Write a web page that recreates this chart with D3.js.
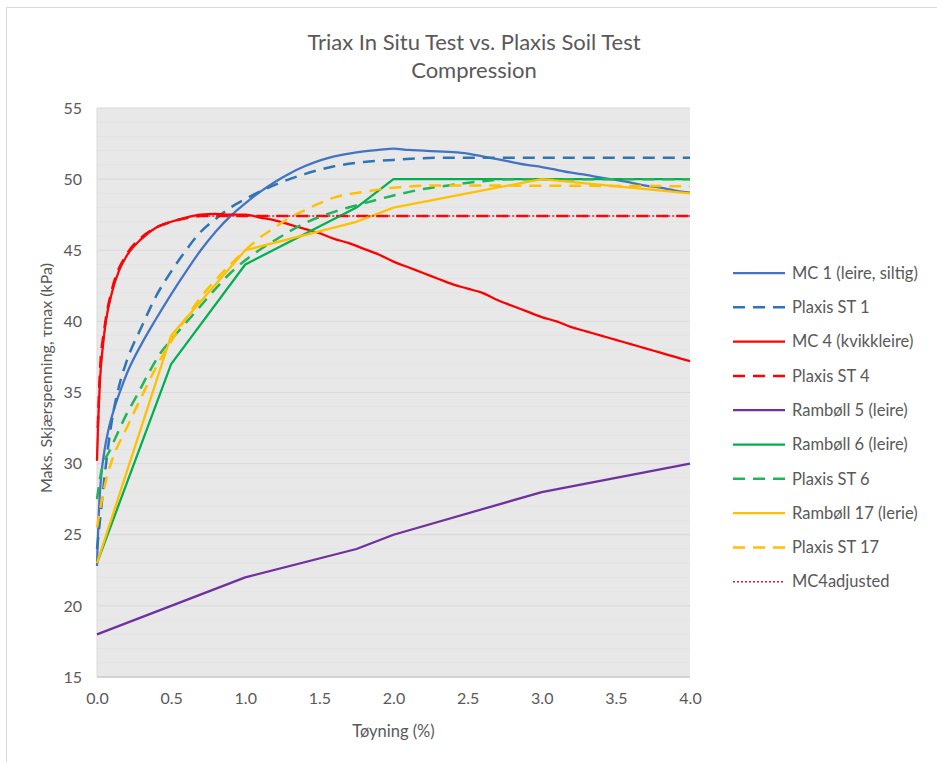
<!DOCTYPE html>
<html lang="no">
<head>
<meta charset="utf-8">
<style>
  body { margin: 0; background: #fff; }
  svg { font-family: 'Lato', sans-serif; }
  .lbl { fill: #595959; }
</style>
</head>
<body>
<div id="chart"></div>
<script src="https://cdn.jsdelivr.net/npm/d3@7"></script>
<script>
// strain (%) vs max shear stress (kPa)
var mc1 = [[0,22.8],[0.005,24.5],[0.01,26],[0.02,28],[0.03,29.3],[0.05,30.9],[0.08,32.5],[0.12,34.0],[0.16,35.2],[0.2,36.3],[0.3,38.4],[0.4,40.2],[0.5,41.9],[0.6,43.5],[0.7,45.0],[0.8,46.3],[0.9,47.4],[1.0,48.3],[1.1,49.1],[1.2,49.8],[1.3,50.4],[1.4,50.9],[1.5,51.3],[1.6,51.6],[1.7,51.8],[1.8,51.95],[1.9,52.05],[2.0,52.15],[2.1,52.05],[2.2,52.0],[2.3,51.95],[2.4,51.9],[2.5,51.8],[2.6,51.6],[2.7,51.4],[2.8,51.2],[2.9,51.0],[3.0,50.85],[3.1,50.65],[3.2,50.45],[3.3,50.3],[3.4,50.1],[3.5,49.95],[3.6,49.75],[3.7,49.55],[3.8,49.4],[3.9,49.2],[4.0,49.05]];
var st1 = [[0,24],[0.02,26],[0.05,29],[0.1,33],[0.15,35.5],[0.2,37.2],[0.3,39.6],[0.4,41.8],[0.5,43.5],[0.6,45.0],[0.7,46.3],[0.8,47.2],[0.9,48.0],[1.0,48.6],[1.2,49.6],[1.4,50.35],[1.6,50.9],[1.8,51.2],[2.0,51.35],[2.3,51.5],[4.0,51.5]];
var mc4 = [[0,30.2],[0.005,32],[0.01,33.5],[0.02,35.8],[0.04,38.3],[0.06,40],[0.1,42],[0.15,43.6],[0.2,44.6],[0.3,45.8],[0.4,46.6],[0.5,47.0],[0.6,47.3],[0.7,47.5],[0.8,47.55],[0.9,47.5],[1.0,47.5],[1.1,47.3],[1.2,47.1],[1.3,46.8],[1.4,46.5],[1.5,46.2],[1.6,45.8],[1.7,45.5],[1.8,45.1],[1.9,44.7],[2.0,44.2],[2.1,43.8],[2.2,43.4],[2.3,43.0],[2.4,42.6],[2.5,42.3],[2.6,42.0],[2.7,41.5],[2.8,41.1],[2.9,40.7],[3.0,40.3],[3.1,40.0],[3.2,39.6],[3.3,39.3],[3.4,39.0],[3.5,38.7],[3.6,38.4],[3.7,38.1],[3.8,37.8],[3.9,37.5],[4.0,37.2]];
var st4 = [[0.005,32.5],[0.02,36.5],[0.05,39.5],[0.1,42.2],[0.2,44.7],[0.3,45.9],[0.4,46.6],[0.5,47.0],[0.6,47.25],[0.7,47.4],[0.8,47.4],[4.0,47.4]];
var r5 = [[0,18],[0.5,20],[1.0,22],[1.75,24],[2.0,25],[3.0,28],[4.0,30]];
var r6 = [[0,23],[0.5,37],[1.0,44],[1.75,48],[2.0,50],[3.0,50],[4.0,50]];
var st6 = [[0,27.5],[0.03,29.5],[0.09,31],[0.15,32.4],[0.2,33.5],[0.27,34.8],[0.34,36.2],[0.43,37.8],[0.5,38.7],[0.6,39.9],[0.7,41.1],[0.8,42.3],[0.9,43.4],[1.0,44.3],[1.2,45.7],[1.4,46.9],[1.6,47.7],[1.8,48.3],[2.0,48.85],[2.2,49.3],[2.4,49.6],[2.6,49.85],[2.8,50],[4.0,50]];
var r17 = [[0,23],[0.5,39],[1.0,45],[1.75,47],[2.0,48],[3.0,50],[4.0,49]];
var st17 = [[0,25.5],[0.03,27.3],[0.06,28.8],[0.1,30.2],[0.2,32.5],[0.3,34.7],[0.4,36.8],[0.5,38.6],[0.6,40.2],[0.7,41.7],[0.8,42.9],[0.9,44.0],[1.0,45.0],[1.1,45.9],[1.2,46.6],[1.3,47.3],[1.4,47.8],[1.5,48.3],[1.6,48.7],[1.8,49.1],[2.0,49.4],[2.3,49.55],[4.0,49.5]];
var mc4adj = [[0,30.2],[0.01,33.5],[0.02,35.8],[0.04,38.3],[0.06,40],[0.1,42],[0.15,43.6],[0.2,44.6],[0.3,45.8],[0.4,46.6],[0.5,47.0],[0.6,47.3],[0.7,47.4],[4.0,47.4]];

var names = ["MC 1 (leire, siltig)", "Plaxis ST 1", "MC 4 (kvikkleire)", "Plaxis ST 4", "Rambøll 5 (leire)",
             "Rambøll 6 (leire)", "Plaxis ST 6", "Rambøll 17 (lerie)", "Plaxis ST 17", "MC4adjusted"];
var xTicks = [0, 0.5, 1, 1.5, 2, 2.5, 3, 3.5, 4];
var yTicks = [15, 20, 25, 30, 35, 40, 45, 50, 55];

// styles
var series = [
  {data: mc1,    color: "#4472C4", dash: null,  w: 2.25, smooth: true},
  {data: st1,    color: "#2E75B6", dash: "12,8", w: 2.5, smooth: true},
  {data: mc4,    color: "#FF0000", dash: null,  w: 2.25, smooth: true},
  {data: st4,    color: "#FF0000", dash: "12,8", w: 2.5, smooth: true},
  {data: r5,     color: "#7030A0", dash: null,  w: 2.25, smooth: false},
  {data: r6,     color: "#00B050", dash: null,  w: 2.25, smooth: false},
  {data: st6,    color: "#22B455", dash: "12,8", w: 2.5, smooth: true},
  {data: r17,    color: "#FFC000", dash: null,  w: 2.25, smooth: false},
  {data: st17,   color: "#FFC000", dash: "12,8", w: 2.5, smooth: true},
  {data: mc4adj, color: "#E8141E", dash: "2,2", w: 1.5, smooth: true}
];

var W = 937, H = 762;
var plot = {left: 97, right: 690, top: 108, bottom: 677};

var svg = d3.select("#chart").append("svg")
  .attr("width", W).attr("height", H);

// chart frame
svg.append("rect")
  .attr("x", 6.5).attr("y", 7.5)
  .attr("width", W + 10).attr("height", H + 10)
  .attr("fill", "#fff").attr("stroke", "#d9d9d9");

var x = d3.scaleLinear().domain([0, 4]).range([plot.left, plot.right]);
var y = d3.scaleLinear().domain([15, 55]).range([plot.bottom, plot.top]);

svg.append("rect")
  .attr("x", plot.left).attr("y", plot.top)
  .attr("width", plot.right - plot.left).attr("height", plot.bottom - plot.top)
  .attr("fill", "#e8e8e8");

// minor + major gridlines
svg.append("g").selectAll("line")
  .data(d3.range(16, 55, 1).filter(function(v) { return v % 5 != 0; }))
  .join("line")
  .attr("x1", plot.left).attr("x2", plot.right)
  .attr("y1", function(d) { return y(d); }).attr("y2", function(d) { return y(d); })
  .attr("stroke", "#e3e3e3").attr("stroke-width", 1);

svg.append("g").selectAll("line")
  .data(yTicks.slice(1))
  .join("line")
  .attr("x1", plot.left).attr("x2", plot.right)
  .attr("y1", function(d) { return y(d); }).attr("y2", function(d) { return y(d); })
  .attr("stroke", "#d9d9d9").attr("stroke-width", 1);

svg.append("line")
  .attr("x1", plot.left).attr("x2", plot.left)
  .attr("y1", plot.top).attr("y2", plot.bottom)
  .attr("stroke", "#d9d9d9");
svg.append("line")
  .attr("x1", plot.left).attr("x2", plot.right)
  .attr("y1", plot.bottom).attr("y2", plot.bottom)
  .attr("stroke", "#c8c8c8").attr("stroke-width", 1.5);

// axes
var xAxis = svg.append("g")
  .attr("transform", "translate(0," + plot.bottom + ")")
  .call(d3.axisBottom(x).tickValues(xTicks).tickFormat(d3.format(".1f")).tickSize(0).tickPadding(16));
xAxis.select(".domain").remove();

var yAxis = svg.append("g")
  .attr("transform", "translate(" + plot.left + ",0)")
  .call(d3.axisLeft(y).tickValues(yTicks).tickSize(0).tickPadding(15));
yAxis.select(".domain").remove();
svg.selectAll(".tick text")
  .attr("font-family", "Lato").attr("font-size", 16).attr("fill", "#595959");

// lines
series.forEach(function(s) {
  var line = d3.line()
    .x(function(d) { return x(d[0]); })
    .y(function(d) { return y(d[1]); })
    .curve(s.smooth ? d3.curveMonotoneX : d3.curveLinear);
  svg.append("path")
    .datum(s.data)
    .attr("d", line)
    .attr("fill", "none")
    .attr("stroke", s.color)
    .attr("stroke-width", s.w)
    .attr("stroke-dasharray", s.dash)
    .attr("stroke-linejoin", "round");
});

// titles
svg.append("text").attr("class", "lbl")
  .attr("x", 474).attr("y", 50)
  .attr("text-anchor", "middle").attr("font-size", 22)
  .text("Triax In Situ Test vs. Plaxis Soil Test");
svg.append("text").attr("class", "lbl")
  .attr("x", 474).attr("y", 78)
  .attr("text-anchor", "middle").attr("font-size", 22)
  .text("Compression");

svg.append("text").attr("class", "lbl")
  .attr("transform", "translate(52,378) rotate(-90)")
  .attr("text-anchor", "middle").attr("font-size", 16)
  .text("Maks. Skjærspenning, τmax (kPa)");

svg.append("text").attr("class", "lbl")
  .attr("x", (plot.left + plot.right) / 2).attr("y", 737)
  .attr("text-anchor", "middle").attr("font-size", 16.5)
  .text("Tøyning (%)");

// legend
var leg = svg.append("g").selectAll("g")
  .data(series)
  .join("g")
  .attr("transform", function(d, i) { return "translate(733," + (273 + i * 34.3) + ")"; });

leg.append("line")
  .attr("x1", 0).attr("x2", 52)
  .attr("stroke", function(d) { return d.color; })
  .attr("stroke-width", function(d) { return d.w; })
  .attr("stroke-dasharray", function(d) { return d.dash; });

leg.append("text").attr("class", "lbl")
  .attr("x", 59).attr("dy", "0.35em")
  .attr("font-size", 16.5)
  .text(function(d, i) { return names[i]; });
</script>
</body>
</html>
